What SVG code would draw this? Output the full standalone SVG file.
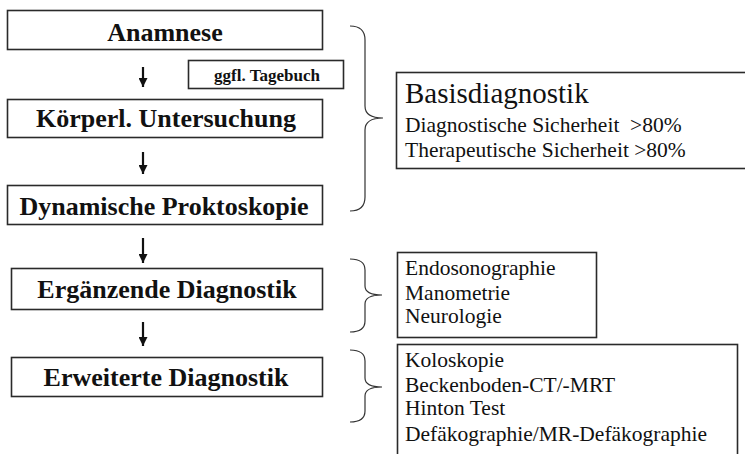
<svg xmlns="http://www.w3.org/2000/svg" width="745" height="454" viewBox="0 0 745 454">
<defs>
<style>
.box{fill:#fff;stroke:#2a2a2a;stroke-width:1.6}
.bt{font-family:"Liberation Serif","Times New Roman",serif;font-weight:bold;font-size:26px;fill:#111;text-anchor:middle}
.st{font-family:"Liberation Serif","Times New Roman",serif;font-weight:bold;font-size:17px;fill:#111;text-anchor:middle}
.rt{font-family:"Liberation Serif","Times New Roman",serif;font-size:21.5px;fill:#111;white-space:pre}
.big{font-size:29px}
.brace{fill:none;stroke:#333;stroke-width:1.2}
.arr{stroke:#111;stroke-width:2.2;fill:none}
</style>
<marker id="ah" viewBox="0 0 10 10" refX="10" refY="5" markerWidth="10" markerHeight="9" markerUnits="userSpaceOnUse" orient="auto">
<path d="M0,0 L10,5 L0,10 Z" fill="#111"/>
</marker>
</defs>
<rect width="745" height="454" fill="#fff"/>
<g id="anamnese">
<rect class="box" x="7.5" y="10.5" width="315" height="39"/>
<text class="bt" x="165" y="41">Anamnese</text>
</g>
<g id="tagebuch">
<rect class="box" x="188.5" y="60.5" width="155" height="28"/>
<text class="st" x="267" y="81">ggfl. Tagebuch</text>
</g>
<g id="koerperl">
<rect class="box" x="7.5" y="99.5" width="315" height="38"/>
<text class="bt" x="166" y="127">Körperl. Untersuchung</text>
</g>
<g id="proktoskopie">
<rect class="box" x="7.5" y="185.5" width="315" height="39"/>
<text class="bt" x="164" y="215">Dynamische Proktoskopie</text>
</g>
<g id="ergaenzende">
<rect class="box" x="11.5" y="268.5" width="311" height="41"/>
<text class="bt" x="167" y="298">Ergänzende Diagnostik</text>
</g>
<g id="erweiterte">
<rect class="box" x="11.5" y="357.5" width="311" height="39"/>
<text class="bt" x="166" y="386">Erweiterte Diagnostik</text>
</g>
<g id="basis">
<rect class="box" x="396.5" y="72.5" width="360" height="96"/>
<text class="rt big" x="405" y="103">Basisdiagnostik</text>
<text class="rt" x="405" y="132">Diagnostische Sicherheit  &gt;80%</text>
<text class="rt" x="405" y="157">Therapeutische Sicherheit &gt;80%</text>
</g>
<g id="ergaenzend-liste">
<rect class="box" x="397.5" y="252.5" width="199" height="85"/>
<text class="rt" x="405" y="275">Endosonographie</text>
<text class="rt" x="405" y="300">Manometrie</text>
<text class="rt" x="405" y="323">Neurologie</text>
</g>
<g id="erweitert-liste">
<rect class="box" x="397.5" y="344.5" width="340" height="120"/>
<text class="rt" x="405" y="367">Koloskopie</text>
<text class="rt" x="405" y="392">Beckenboden-CT/-MRT</text>
<text class="rt" x="405" y="415">Hinton Test</text>
<text class="rt" x="405" y="441">Defäkographie/MR-Defäkographie</text>
</g>
<g id="connectors">
<path class="arr" d="M143,67 V87" marker-end="url(#ah)"/>
<path class="arr" d="M143,152 V174" marker-end="url(#ah)"/>
<path class="arr" d="M143,238 V263" marker-end="url(#ah)"/>
<path class="arr" d="M143,322 V346" marker-end="url(#ah)"/>
<path class="brace" d="M350,26 Q365,26 365,40 L365,106 Q365,118 383,118 Q365,118 365,130 L365,197 Q365,211 350,211"/>
<path class="brace" d="M350,259 Q365,259 365,270 L365,286 Q365,295 382,295 Q365,295 365,304 L365,321 Q365,332 350,332"/>
<path class="brace" d="M350,350 Q365,350 365,361 L365,378 Q365,387 382,387 Q365,387 365,396 L365,411 Q365,422 350,422"/>
</g>
</svg>
